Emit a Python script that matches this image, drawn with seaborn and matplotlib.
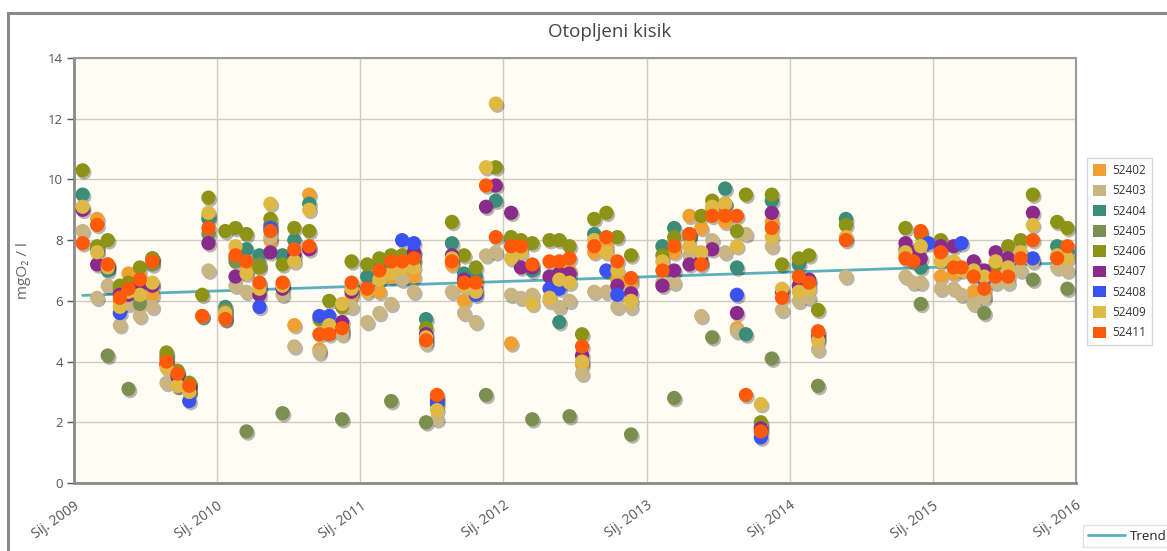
import numpy as np
import pandas as pd
import matplotlib
matplotlib.use("Agg")
import matplotlib.pyplot as plt
import matplotlib.dates as mdates
import matplotlib.patheffects as pe
from matplotlib.patches import Patch, Rectangle
from matplotlib.lines import Line2D
import seaborn as sns

title = "Otopljeni kisik"
y_label = "mgO₂ / l"
tick_years = [2009, 2010, 2011, 2012, 2013, 2014, 2015, 2016]
tick_labels = ["Sij. 2009", "Sij. 2010", "Sij. 2011", "Sij. 2012",
               "Sij. 2013", "Sij. 2014", "Sij. 2015", "Sij. 2016"]
stations = ["52402", "52403", "52404", "52405", "52406",
            "52407", "52408", "52409", "52411"]
station_colors = ["#F0A030", "#C9B584", "#3B8C78", "#7B8F50", "#8C9316",
                  "#8A2A8A", "#3A52F0", "#E0B944", "#FF5A0A"]

# sampling dates (sample number = position in list, starting at 1)
sample_dates = [
    "2009-01-23", "2009-03-01", "2009-03-28", "2009-04-28", "2009-05-20",
    "2009-06-18", "2009-07-20", "2009-08-25", "2009-09-22", "2009-10-22",
    "2009-11-24", "2009-12-10", "2010-01-22", "2010-02-17", "2010-03-17",
    "2010-04-19", "2010-05-17", "2010-06-17", "2010-07-17", "2010-08-24",
    "2010-09-19", "2010-10-14", "2010-11-16", "2010-12-10", "2011-01-19",
    "2011-02-19", "2011-03-21", "2011-04-18", "2011-05-18", "2011-06-18",
    "2011-07-16", "2011-08-23", "2011-09-23", "2011-10-23", "2011-11-18",
    "2011-12-13", "2012-01-21", "2012-02-15", "2012-03-15", "2012-04-28",
    "2012-05-23", "2012-06-18", "2012-07-20", "2012-08-20", "2012-09-20",
    "2012-10-18", "2012-11-22", "2013-02-10", "2013-03-12", "2013-04-20",
    "2013-05-20", "2013-06-17", "2013-07-20", "2013-08-19", "2013-09-11",
    "2013-10-19", "2013-11-16", "2013-12-12", "2014-01-24", "2014-02-19",
    "2014-03-14", "2014-05-24", "2014-10-23", "2014-11-12", "2014-12-01",
    "2014-12-20", "2015-01-21", "2015-02-23", "2015-03-15", "2015-04-15",
    "2015-05-12", "2015-06-10", "2015-07-12", "2015-08-13", "2015-09-13",
    "2015-11-14", "2015-12-10"]

# (sample number, mgO2/l) per station
s52402 = [(2, 8.7), (3, 7.2), (4, 6.0), (5, 6.9), (6, 6.8), (7, 6.2), (8, 3.9),
          (9, 3.6), (10, 3.3), (11, 5.5), (12, 8.8), (13, 5.5), (15, 7.0),
          (17, 8.0), (19, 5.2), (20, 9.5), (21, 4.4), (23, 5.0), (24, 6.2),
          (25, 6.5), (26, 6.3), (27, 6.8), (28, 7.0), (29, 6.8), (31, 2.8),
          (32, 7.2), (33, 6.0), (37, 4.6), (42, 7.0), (43, 3.9), (44, 7.6),
          (45, 7.8), (46, 6.7), (47, 6.6), (49, 7.6), (50, 8.8), (51, 8.4),
          (52, 9.0), (53, 8.6), (54, 5.1), (57, 8.6), (61, 4.9), (63, 7.5),
          (67, 6.8), (68, 6.9), (70, 6.3), (71, 6.2)]
s52403 = [(1, 8.3), (2, 6.1), (3, 6.5), (4, 5.2), (5, 5.9), (6, 5.5), (7, 5.8),
          (8, 3.3), (9, 3.2), (10, 3.0), (12, 7.0), (13, 5.4), (14, 6.5),
          (15, 6.3), (16, 6.5), (17, 8.1), (18, 6.2), (19, 4.5), (21, 4.3),
          (23, 4.9), (24, 5.8), (25, 5.3), (26, 5.6), (27, 5.9), (28, 6.7),
          (29, 6.3), (30, 4.6), (31, 2.1), (32, 6.3), (33, 5.6), (34, 5.3),
          (35, 7.5), (36, 7.6), (37, 6.2), (38, 6.1), (39, 6.2), (40, 6.0),
          (41, 5.8), (42, 6.0), (43, 3.6), (44, 6.3), (45, 6.3), (46, 5.8),
          (47, 5.8), (48, 6.6), (49, 6.6), (50, 7.5), (51, 5.5), (52, 8.0),
          (53, 7.6), (54, 5.0), (55, 8.2), (56, 1.9), (57, 7.8), (58, 5.7),
          (59, 6.0), (60, 6.1), (61, 4.4), (62, 6.8), (63, 6.8), (64, 6.6),
          (65, 6.6), (67, 6.4), (68, 6.4), (69, 6.2), (70, 5.9), (71, 6.1),
          (72, 6.6), (73, 6.6), (74, 7.0), (75, 7.3), (76, 7.1), (77, 7.0)]
s52404 = [(1, 9.5), (2, 7.7), (3, 7.0), (4, 6.3), (6, 6.6), (7, 7.4), (8, 4.1),
          (10, 3.2), (12, 8.7), (13, 5.8), (14, 7.4), (15, 7.7), (16, 7.5),
          (17, 8.5), (18, 7.5), (19, 8.0), (20, 9.2), (25, 6.8), (26, 7.1),
          (27, 7.2), (29, 7.3), (30, 5.4), (32, 7.9), (33, 6.9), (34, 6.8),
          (36, 9.3), (37, 8.0), (39, 7.0), (41, 5.3), (44, 8.2), (48, 7.8),
          (49, 8.4), (53, 9.7), (54, 7.1), (55, 4.9), (57, 9.3), (59, 7.2),
          (62, 8.7), (63, 7.7), (65, 7.1), (76, 7.8), (77, 7.6)]
s52405 = [(3, 4.2), (4, 6.4), (5, 3.1), (6, 5.9), (7, 7.2), (8, 4.2), (12, 8.2),
          (13, 5.7), (14, 7.3), (15, 1.7), (16, 7.2), (18, 2.3), (23, 2.1),
          (27, 2.7), (30, 2.0), (35, 2.9), (39, 2.1), (42, 2.2), (47, 1.6),
          (49, 2.8), (52, 4.8), (57, 4.1), (61, 3.2), (65, 5.9), (71, 5.6),
          (75, 6.7), (77, 6.4)]
s52406 = [(1, 10.3), (2, 7.8), (3, 8.0), (4, 6.5), (5, 6.6), (6, 7.1), (7, 7.4),
          (8, 4.3), (9, 3.7), (10, 3.3), (11, 6.2), (12, 9.4), (13, 8.3),
          (14, 8.4), (15, 8.2), (16, 7.1), (17, 8.7), (18, 7.2), (19, 8.4),
          (20, 8.3), (21, 5.4), (22, 6.0), (23, 5.8), (24, 7.3), (25, 7.2),
          (26, 7.4), (27, 7.5), (28, 7.5), (29, 7.6), (30, 5.1), (32, 8.6),
          (33, 7.5), (34, 7.1), (36, 10.4), (37, 8.1), (38, 8.0), (39, 7.9),
          (40, 8.0), (41, 8.0), (42, 7.8), (43, 4.9), (44, 8.7), (45, 8.9),
          (46, 8.1), (47, 7.5), (48, 7.5), (49, 8.1), (50, 8.1), (51, 8.8),
          (52, 9.3), (53, 9.2), (54, 8.3), (55, 9.5), (56, 2.0), (57, 9.5),
          (58, 7.2), (59, 7.4), (60, 7.5), (61, 5.7), (62, 8.5), (63, 8.4),
          (65, 8.2), (67, 8.0), (72, 7.2), (73, 7.8), (74, 8.0), (75, 9.5),
          (76, 8.6), (77, 8.4)]
s52407 = [(1, 9.0), (2, 7.2), (3, 7.1), (4, 6.2), (5, 6.2), (6, 6.5), (7, 6.5),
          (8, 3.9), (9, 3.5), (10, 3.1), (12, 7.9), (14, 6.8), (16, 6.2),
          (17, 7.6), (18, 6.4), (19, 7.5), (20, 7.7), (22, 5.0), (23, 5.3),
          (24, 6.3), (25, 6.4), (28, 7.2), (29, 7.6), (30, 4.9), (31, 2.7),
          (32, 7.5), (33, 6.7), (34, 6.4), (35, 9.1), (36, 9.8), (37, 8.9),
          (38, 7.1), (39, 7.1), (40, 6.8), (41, 6.9), (42, 6.9), (43, 4.2),
          (46, 6.5), (47, 6.25), (48, 6.5), (49, 7.0), (50, 7.2), (51, 7.3),
          (52, 7.7), (54, 5.6), (56, 1.8), (57, 8.9), (58, 6.3), (59, 6.5),
          (60, 6.7), (61, 4.8), (63, 7.9), (64, 7.6), (65, 7.4), (67, 7.8),
          (68, 7.8), (70, 7.3), (71, 7.0), (72, 7.6), (73, 7.4), (75, 8.9)]
s52408 = [(4, 5.6), (10, 2.7), (16, 5.8), (17, 8.4), (21, 5.5), (22, 5.5),
          (28, 8.0), (29, 7.9), (31, 2.6), (34, 6.2), (40, 6.4), (41, 6.4),
          (45, 7.0), (46, 6.2), (50, 8.2), (54, 6.2), (56, 1.5), (66, 7.9),
          (69, 7.9), (70, 6.9), (71, 6.7), (75, 7.4)]
s52409 = [(1, 9.1), (2, 7.6), (3, 7.1), (4, 5.8), (5, 6.3), (6, 6.2), (7, 6.6),
          (8, 3.8), (9, 3.2), (10, 3.0), (12, 8.9), (13, 5.6), (14, 7.8),
          (15, 6.9), (16, 6.4), (17, 9.2), (18, 6.5), (19, 7.3), (20, 9.0),
          (22, 5.2), (23, 5.9), (24, 6.4), (25, 6.3), (26, 6.7), (27, 6.9),
          (28, 7.1), (29, 7.1), (30, 4.8), (31, 2.4), (32, 7.4), (33, 6.5),
          (34, 6.3), (35, 10.4), (36, 12.5), (37, 7.4), (38, 7.6), (39, 5.9),
          (40, 6.1), (41, 6.7), (42, 6.6), (43, 4.0), (44, 8.0), (45, 7.6),
          (46, 7.0), (47, 6.0), (48, 7.3), (50, 7.8), (51, 7.6), (52, 9.1),
          (53, 9.2), (54, 7.8), (56, 2.6), (57, 8.1), (58, 6.4), (59, 6.3),
          (60, 6.4), (61, 4.7), (62, 8.1), (63, 7.6), (65, 7.8), (67, 7.3),
          (68, 7.3), (69, 7.0), (70, 7.0), (71, 6.8), (72, 7.3), (73, 7.1),
          (74, 7.6), (75, 8.5), (76, 7.5), (77, 7.4)]
s52411 = [(1, 7.9), (2, 8.5), (3, 7.2), (4, 6.1), (5, 6.4), (6, 6.7), (7, 7.3),
          (8, 4.0), (9, 3.6), (10, 3.2), (11, 5.5), (12, 8.4), (13, 5.4),
          (14, 7.5), (15, 7.3), (16, 6.6), (17, 8.3), (18, 6.6), (19, 7.7),
          (20, 7.8), (21, 4.9), (22, 4.9), (23, 5.1), (24, 6.6), (25, 6.4),
          (26, 7.0), (27, 7.3), (28, 7.3), (29, 7.4), (30, 4.7), (31, 2.9),
          (32, 7.3), (33, 6.6), (34, 6.6), (35, 9.8), (36, 8.1), (37, 7.8),
          (38, 7.8), (39, 7.2), (40, 7.3), (41, 7.3), (42, 7.4), (43, 4.5),
          (44, 7.8), (45, 8.1), (46, 7.3), (47, 6.75), (48, 7.0), (49, 7.8),
          (50, 8.2), (51, 7.2), (52, 8.8), (53, 8.8), (54, 8.8), (55, 2.9),
          (56, 1.7), (57, 8.4), (58, 6.1), (59, 6.8), (60, 6.6), (61, 5.0),
          (62, 8.0), (63, 7.4), (64, 7.3), (65, 8.3), (67, 7.6), (68, 7.1),
          (69, 7.1), (70, 6.8), (71, 6.4), (72, 6.8), (73, 6.8), (74, 7.4),
          (75, 8.0), (76, 7.4), (77, 7.8)]

trend_dates = ["2009-01-23", "2015-12-10"]
trend_values = [6.18, 7.25]
trend_label = "Trend"
trend_color = "#5BB0BC"

station_data = [s52402, s52403, s52404, s52405, s52406,
                s52407, s52408, s52409, s52411]

rows = []
for st, data in zip(stations, station_data):
    for n, v in data:
        rows.append({"date": pd.Timestamp(sample_dates[n - 1]), "value": v, "station": st})
df = pd.DataFrame(rows)

sns.set_theme(style="white")
plt.rcParams["font.family"] = ["Open Sans", "DejaVu Sans"]

W, H = 1167, 551
fig = plt.figure(figsize=(W / 100, H / 100), dpi=100, facecolor="white")
ax = fig.add_axes([74 / W, 1 - 483 / H, (1076 - 74) / W, (483 - 58) / H])
ax.set_facecolor("#FFFCF3")

# outer frame
fig.patches.append(Rectangle((8 / W, -0.05), 1.2, 1 - 13 / H + 0.05,
                             transform=fig.transFigure, fill=False,
                             edgecolor="#8A8A8A", linewidth=2.2, zorder=0))

# trend line
ax.plot(pd.to_datetime(trend_dates), trend_values, color=trend_color,
        linewidth=2.0, zorder=2)

pal = dict(zip(stations, station_colors))
sns.scatterplot(data=df, x="date", y="value", hue="station", hue_order=stations,
                palette=pal, s=105, linewidth=0, alpha=1.0, legend=False,
                ax=ax, zorder=3)
for coll in ax.collections:
    coll.set_path_effects([pe.SimplePatchShadow(offset=(1.2, -1.6), shadow_rgbFace="#000000", alpha=0.28),
                           pe.Normal()])

ax.set_xlim(pd.Timestamp("2009-01-01"), pd.Timestamp("2016-01-01"))
ax.set_ylim(0, 14)
ax.set_yticks(np.arange(0, 15, 2))
ax.set_yticklabels([str(v) for v in range(0, 15, 2)])
ax.set_xticks([pd.Timestamp(f"{y}-01-01") for y in tick_years])
ax.set_xticklabels(tick_labels, rotation=35, ha="right", rotation_mode="anchor")
ax.grid(True, color="#CFCBC4", linewidth=1.0)
ax.set_axisbelow(True)
ax.tick_params(axis="y", colors="#555555", labelsize=9.5, length=5, width=1, pad=3, direction="out", left=True)
ax.tick_params(axis="x", colors="#555555", labelsize=10, length=0, pad=11)
for lbl in ax.get_xticklabels() + ax.get_yticklabels():
    lbl.set_color("#555555")
for side in ["left", "bottom"]:
    ax.spines[side].set_color("#8A8A8A")
    ax.spines[side].set_linewidth(2.0)
for side in ["top", "right"]:
    ax.spines[side].set_color("#9A9A9A")
    ax.spines[side].set_linewidth(1.5)
ax.set_xlabel("")
ax.set_ylabel(y_label, fontsize=11, color="#666666", labelpad=12)

fig.text(610 / W, 1 - 32 / H, title, ha="center", va="center", fontsize=13.5, color="#444444")

handles = [Patch(facecolor=c, edgecolor="none", label=s) for s, c in zip(stations, station_colors)]
leg = fig.legend(handles=handles, loc="upper left", bbox_to_anchor=(1087 / W, 1 - 158 / H),
                 frameon=True, fancybox=False, fontsize=8.5, handlelength=1.1,
                 handleheight=1.1, handletextpad=0.5, labelspacing=0.62,
                 borderpad=0.5, borderaxespad=0)
leg.get_frame().set_edgecolor("#CCCCCC")
leg.get_frame().set_linewidth(1.0)
for t in leg.get_texts():
    t.set_color("#333333")

leg2 = fig.legend(handles=[Line2D([], [], color=trend_color, linewidth=2.0, label=trend_label)],
                  loc="upper left", bbox_to_anchor=(1083 / W, 1 - 525 / H), frameon=True,
                  fancybox=False, fontsize=9.5, handlelength=2.8, handletextpad=0.4,
                  borderpad=0.35, borderaxespad=0)
leg2.get_frame().set_edgecolor("#DDDDDD")
for t in leg2.get_texts():
    t.set_color("#222222")

fig.savefig("out.png", dpi=100, facecolor="white")
